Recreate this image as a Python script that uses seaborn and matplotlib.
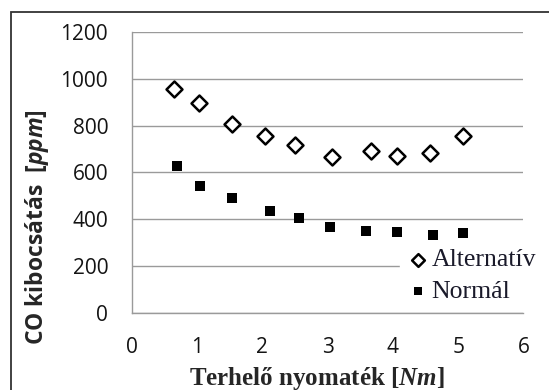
import matplotlib
matplotlib.use("Agg")
import matplotlib.pyplot as plt
from matplotlib.patches import Rectangle
import pandas as pd
import seaborn as sns

# Load torque [Nm] and CO emission [ppm] for both fuels
torque_alt = [0.65, 1.03, 1.53, 2.04, 2.50, 3.06, 3.67, 4.06, 4.57, 5.08]
co_alt = [955, 897, 806, 755, 717, 666, 693, 672, 683, 757]
torque_norm = [0.69, 1.05, 1.53, 2.12, 2.56, 3.04, 3.59, 4.07, 4.62, 5.08]
co_norm = [626, 541, 491, 434, 406, 368, 352, 346, 335, 341]
series_names = ["Alternatív", "Normál"]
x_ticks = [0, 1, 2, 3, 4, 5, 6]
y_ticks = [0, 200, 400, 600, 800, 1000, 1200]

df_alt = pd.DataFrame({"torque": torque_alt, "co": co_alt})
df_norm = pd.DataFrame({"torque": torque_norm, "co": co_norm})

sns.set_style("white")
plt.rcParams["font.family"] = ["Open Sans", "DejaVu Sans"]
plt.rcParams["mathtext.fontset"] = "custom"
plt.rcParams["mathtext.it"] = "Open Sans:italic:bold"
plt.rcParams["mathtext.sf"] = "Liberation Serif:italic:bold"

fig = plt.figure(figsize=(5.49, 3.90), dpi=100)
ax = fig.add_axes([0.240, 0.1967, 0.7135, 0.722])

grid_gray = "#9a9a9a"

sns.scatterplot(data=df_alt, x="torque", y="co", ax=ax, marker="D", s=66,
                facecolor="white", edgecolor="black", linewidth=1.8,
                label=series_names[0], zorder=3)
sns.scatterplot(data=df_norm, x="torque", y="co", ax=ax, marker="s", s=48,
                color="black", linewidth=0, label=series_names[1], zorder=3)

ax.set_xlim(x_ticks[0], x_ticks[-1])
ax.set_ylim(y_ticks[0], y_ticks[-1])
ax.set_xticks(x_ticks)
ax.set_yticks(y_ticks)
ax.set_axisbelow(True)
ax.yaxis.grid(True, color=grid_gray, linewidth=1.0)
ax.xaxis.grid(False)
for side in ["top", "right"]:
    ax.spines[side].set_visible(False)
for side in ["left", "bottom"]:
    ax.spines[side].set_color(grid_gray)
    ax.spines[side].set_linewidth(1.0)
ax.tick_params(axis="both", length=0, labelsize=15, colors="#141414")
ax.tick_params(axis="x", pad=17)
ax.tick_params(axis="y", pad=17)
ax.set_xlabel("")
ax.set_ylabel("")

leg = ax.legend(loc="center left", bbox_to_anchor=(0.686, 0.134),
                prop={"family": "Liberation Serif", "size": 18.5},
                frameon=True, facecolor="white", edgecolor="white",
                framealpha=1, fancybox=False, handletextpad=0.05,
                handlelength=0.9, labelspacing=0.32, borderpad=0.25,
                borderaxespad=0, markerscale=0.8)
for t in leg.get_texts():
    t.set_color("#1a1a2a")

fig.text(36.8 / 549, 1 - 227.5 / 390, r"CO kibocsátás  [$\mathit{ppm}$]",
         rotation=90, ha="center", va="center", fontsize=16.5,
         fontweight="bold", math_fontfamily="custom")
fig.text(316.9 / 549, 1 - 378 / 390, r"Terhelő nyomaték [$\mathsf{Nm}$]",
         ha="center", va="center", fontsize=18, fontweight="bold",
         family="Liberation Serif", math_fontfamily="custom")

# Frame around the whole chart area
fig.patches.append(Rectangle((10.5 / 549, -0.2), 1.5, 0.2 + 1 - 12 / 390,
                             transform=fig.transFigure, fill=False,
                             edgecolor="#333333", linewidth=1.3))

fig.savefig("out.png", dpi=100)
